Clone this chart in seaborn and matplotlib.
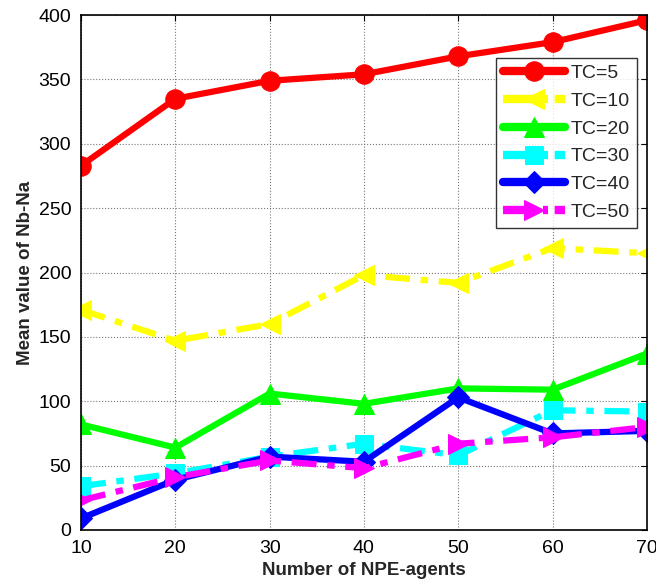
import numpy as np
import pandas as pd
import seaborn as sns
import matplotlib
matplotlib.use("Agg")
import matplotlib.pyplot as plt

agents = [10, 20, 30, 40, 50, 60, 70]
tc5 = [283, 335, 349, 354, 368, 379, 396]
tc10 = [171, 147, 160, 198, 192, 219, 215]
tc20 = [82, 64, 106, 98, 110, 109, 137]
tc30 = [34, 44, 57, 67, 58, 93, 92]
tc40 = [9, 39, 57, 53, 103, 75, 77]
tc50 = [23, 41, 54, 48, 67, 72, 80]
labels = ["TC=5", "TC=10", "TC=20", "TC=30", "TC=40", "TC=50"]

series = [tc5, tc10, tc20, tc30, tc40, tc50]
colors = ["#ff0000", "#ffff00", "#00ff00", "#00ffff", "#0000ff", "#ff00ff"]
markers = ["o", "<", "^", "s", "D", ">"]
msizes = [14, 15, 15, 13, 11, 15]
dashdot = [False, True, False, True, False, True]

sns.set_style("white")
plt.rcParams['font.family'] = ['Liberation Sans', 'DejaVu Sans']

fig = plt.figure(figsize=(6.56, 5.86), dpi=100)
ax = fig.add_axes([0.1235, 0.0956, 0.8625, 0.8786])

for vals, lab, c, m, ms, dd in zip(series, labels, colors, markers, msizes, dashdot):
    sns.lineplot(x=agents, y=vals, ax=ax, color=c, marker=m, markersize=ms,
                 markeredgecolor=c, linewidth=4.5, label=lab)
    if dd:
        ax.lines[-1].set_dashes((4, 1.7, 1.2, 1.7))

ax.set_xlim(10, 70)
ax.set_ylim(0, 400)
ax.set_xticks(agents)
ax.set_yticks(np.arange(0, 401, 50))
ax.tick_params(direction="in", length=4, width=0.8, top=True, right=True,
               labelsize=14, colors="black", pad=7)
ax.grid(True, linestyle=":", color="#777777", linewidth=0.8)
for s in ax.spines.values():
    s.set_color("black")
    s.set_linewidth(1.2)

ax.set_xlabel("Number of NPE-agents", fontsize=13.5, fontweight="bold", labelpad=4)
ax.set_ylabel("Mean value of Nb-Na", fontsize=13.5, fontweight="bold", labelpad=3)

leg = ax.legend(loc="upper right", bbox_to_anchor=(0.982, 0.917), fontsize=14,
                handlelength=3.2, frameon=True, fancybox=False, edgecolor="black",
                borderpad=0.35, labelspacing=0.52, handletextpad=0.3, borderaxespad=0)
leg.get_frame().set_linewidth(1.0)
for h, dd in zip(leg.get_lines(), dashdot):
    h.set_linewidth(6)
    if dd:
        h.set_dashes((4, 0.8, 0.6, 0.8))

fig.savefig("out.png", dpi=100)
